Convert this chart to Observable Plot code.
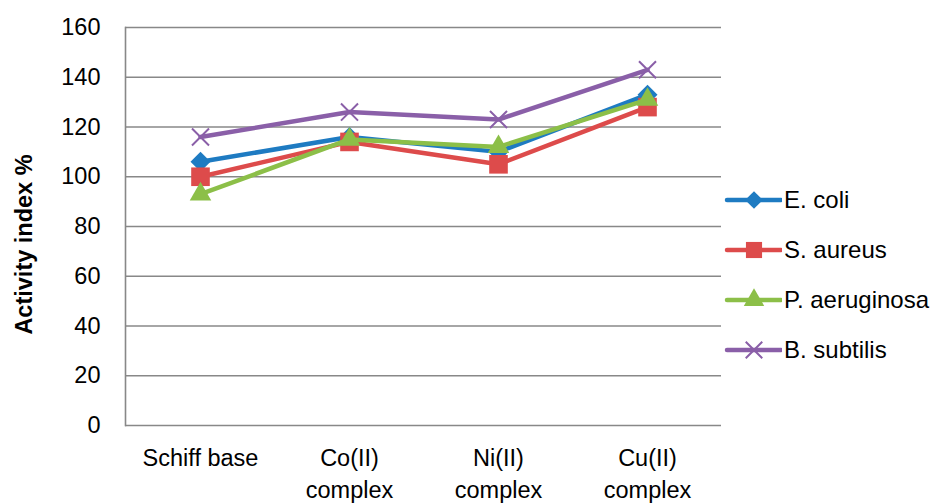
<!DOCTYPE html>
<html>
<head>
<meta charset="utf-8">
<script src="https://cdn.jsdelivr.net/npm/d3@7"></script>
<script src="https://cdn.jsdelivr.net/npm/@observablehq/plot@0.6"></script>
<style>
  html, body { margin: 0; padding: 0; background: #fff; }
  #wrap { position: relative; width: 932px; height: 503px; overflow: hidden; font-family: "Liberation Sans", Arial, sans-serif; }
  #legend { position: absolute; left: 724px; top: 0; }
  .row { position: absolute; left: 0; height: 30px; display: flex; align-items: center; white-space: nowrap; font-size: 24px; color: #000; }
  .row svg { display: block; margin-right: 2px; }
</style>
</head>
<body>
<div id="wrap"><div id="legend"></div></div>
<script>
const categories = ["Schiff base", "Co(II) complex", "Ni(II) complex", "Cu(II) complex"];
const tickLabels = ["Schiff base", "Co(II)\ncomplex", "Ni(II)\ncomplex", "Cu(II)\ncomplex"];
const yTicks = [0, 20, 40, 60, 80, 100, 120, 140, 160];
const seriesNames = ["E. coli", "S. aureus", "P. aeruginosa", "B. subtilis"];
const eColi = [106, 116, 110, 133];
const sAureus = [100, 114, 105, 128];
const pAeruginosa = [93, 115, 112, 131];
const bSubtilis = [116, 126, 123, 143];
const seriesValues = [eColi, sAureus, pAeruginosa, bSubtilis];
const colors = ["#1e7bc2", "#dd4b4b", "#8cbf48", "#8a5fa8"];
const symbols = ["diamond2", "square", "triangle", "times"];
const radii = [9, 10.5, 8, 7.8];

const data = seriesNames.flatMap((s, k) =>
  categories.map((c, i) => ({series: s, category: c, value: seriesValues[k][i]})));

const grid = "#888888";
const marks = [
  Plot.gridY(yTicks, {stroke: grid, strokeOpacity: 1, strokeWidth: 1.6}),
  Plot.frame({anchor: "left", stroke: grid, strokeWidth: 1.6}),
  Plot.axisY(yTicks, {tickSize: 0, tickPadding: 25, fontSize: 23.5, label: "Activity index %",
    labelAnchor: "center", labelArrow: "none", labelOffset: 110, fill: "#000"}),
  Plot.axisX({tickSize: 0, tickPadding: 18, fontSize: 23.5, lineHeight: 1.36, fill: "#000",
    tickFormat: d => tickLabels[categories.indexOf(d)], label: null})
];
seriesNames.forEach((s, k) => {
  const sd = data.filter(d => d.series === s);
  marks.push(Plot.line(sd, {x: "category", y: "value", stroke: colors[k], strokeWidth: 4.5}));
  if (symbols[k] === "times") {
    marks.push(Plot.dot(sd, {x: "category", y: "value", symbol: "times", r: radii[k], stroke: colors[k], strokeWidth: 2}));
  } else {
    marks.push(Plot.dot(sd, {x: "category", y: "value", symbol: symbols[k], r: radii[k], fill: colors[k], stroke: "none"}));
  }
});

const chart = Plot.plot({
  width: 932,
  height: 503,
  marginLeft: 125,
  marginRight: 211,
  marginTop: 27,
  marginBottom: 78,
  style: {fontFamily: '"Liberation Sans", Arial, sans-serif', background: "#fff", overflow: "visible"},
  x: {type: "point", domain: categories, padding: 0.5},
  y: {domain: [0, 160]},
  marks
});
const lab = d3.select(chart).select("g[aria-label='y-axis label']");
lab.selectAll("text").attr("font-weight", "bold").attr("font-size", 23.5);
lab.attr("transform", "translate(0,18) " + (lab.attr("transform") || ""));
document.getElementById("wrap").prepend(chart);

// Legend
const legend = d3.select("#legend");
const symMap = {diamond2: d3.symbolDiamond2, square: d3.symbolSquare, triangle: d3.symbolTriangle, times: d3.symbolTimes};
const legendSizes = [200, 260, 180, 180];
seriesNames.forEach((s, k) => {
  const row = legend.append("div").attr("class", "row").style("top", (185 + 50 * k) + "px");
  const svg = row.append("svg").attr("width", 58).attr("height", 30);
  svg.append("line").attr("x1", 3).attr("x2", 57).attr("y1", 15).attr("y2", 15)
    .attr("stroke", colors[k]).attr("stroke-width", 4.5).attr("stroke-linecap", "round");
  const p = svg.append("path").attr("transform", "translate(30,15)")
    .attr("d", d3.symbol(symMap[symbols[k]], legendSizes[k])());
  if (symbols[k] === "times") p.attr("fill", "none").attr("stroke", colors[k]).attr("stroke-width", 2);
  else p.attr("fill", colors[k]);
  row.append("span").text(s);
});
</script>
</body>
</html>
